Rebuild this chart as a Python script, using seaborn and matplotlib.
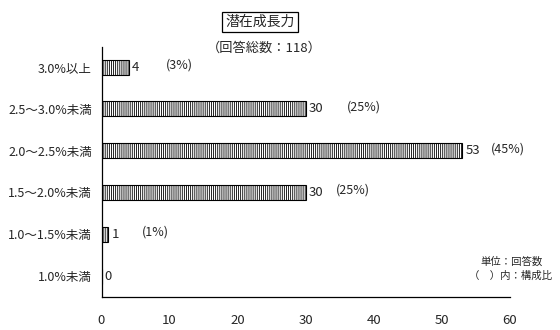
import matplotlib
matplotlib.use("Agg")
import matplotlib.pyplot as plt
import seaborn as sns
import pandas as pd

categories = ["3.0%以上", "2.5～3.0%未満", "2.0～2.5%未満", "1.5～2.0%未満", "1.0～1.5%未満", "1.0%未満"]
counts = [4, 30, 53, 30, 1, 0]
shares = ["(3%)", "(25%)", "(45%)", "(25%)", "(1%)", ""]
x_ticks = [0, 10, 20, 30, 40, 50, 60]
title = "潜在成長力"
subtitle = "（回答総数：118）"
note1 = "単位：回答数"
note2 = "（　）内：構成比"

# layout: x position (data units) where share labels start
share_x = [9.4, 36.1, 57.2, 34.4, 5.9, 0]

sns.set_theme(style="white")
plt.rcParams['font.family'] = ['Noto Sans CJK JP', 'DejaVu Sans']
plt.rcParams['hatch.linewidth'] = 0.6

df = pd.DataFrame({"cat": categories, "n": counts})

fig = plt.figure(figsize=(5.6, 3.3), dpi=100)
ax = fig.add_axes([101.5/560, 1 - 297/330, (510 - 101.5)/560, 250/330])
sns.barplot(data=df, x="n", y="cat", orient="h", color="white", edgecolor="black",
            linewidth=0.8, width=0.36, ax=ax, saturation=1)
for p in ax.patches:
    p.set_hatch("||||||||")
    p.set_facecolor("white")
    p.set_edgecolor("black")

ax.set_xlim(0, 60)
ax.set_ylim(5.5, -0.48)
ax.set_xticks(x_ticks)
ax.set_xticklabels([str(t) for t in x_ticks], fontsize=9.5)
ax.tick_params(axis="x", direction="in", length=3, width=0.8, color="black", pad=12)
ax.tick_params(axis="y", length=0, pad=7, labelsize=9)
ax.set_xlabel("")
ax.set_ylabel("")
for s in ["top", "right"]:
    ax.spines[s].set_visible(False)
for s in ["left", "bottom"]:
    ax.spines[s].set_color("black")
    ax.spines[s].set_linewidth(0.9)

for i, (v, s, sx) in enumerate(zip(counts, shares, share_x)):
    ax.text(v + 0.45, i, str(v), va="center", ha="left", fontsize=9.5)
    if s:
        ax.text(sx, i - 0.05, s, va="center", ha="left", fontsize=9)

fig.text(260/560, 1 - 22/330, title, ha="center", va="center", fontsize=10,
         bbox=dict(boxstyle="square,pad=0.25", facecolor="white", edgecolor="black", linewidth=0.9))
fig.text(264/560, 1 - 48/330, subtitle, ha="center", va="center", fontsize=9.5)
fig.text(543/560, 1 - 262/330, note1, ha="right", va="center", fontsize=7.5)
fig.text(552/560, 1 - 276/330, note2, ha="right", va="center", fontsize=7.5)

fig.savefig("out.png", dpi=100)
